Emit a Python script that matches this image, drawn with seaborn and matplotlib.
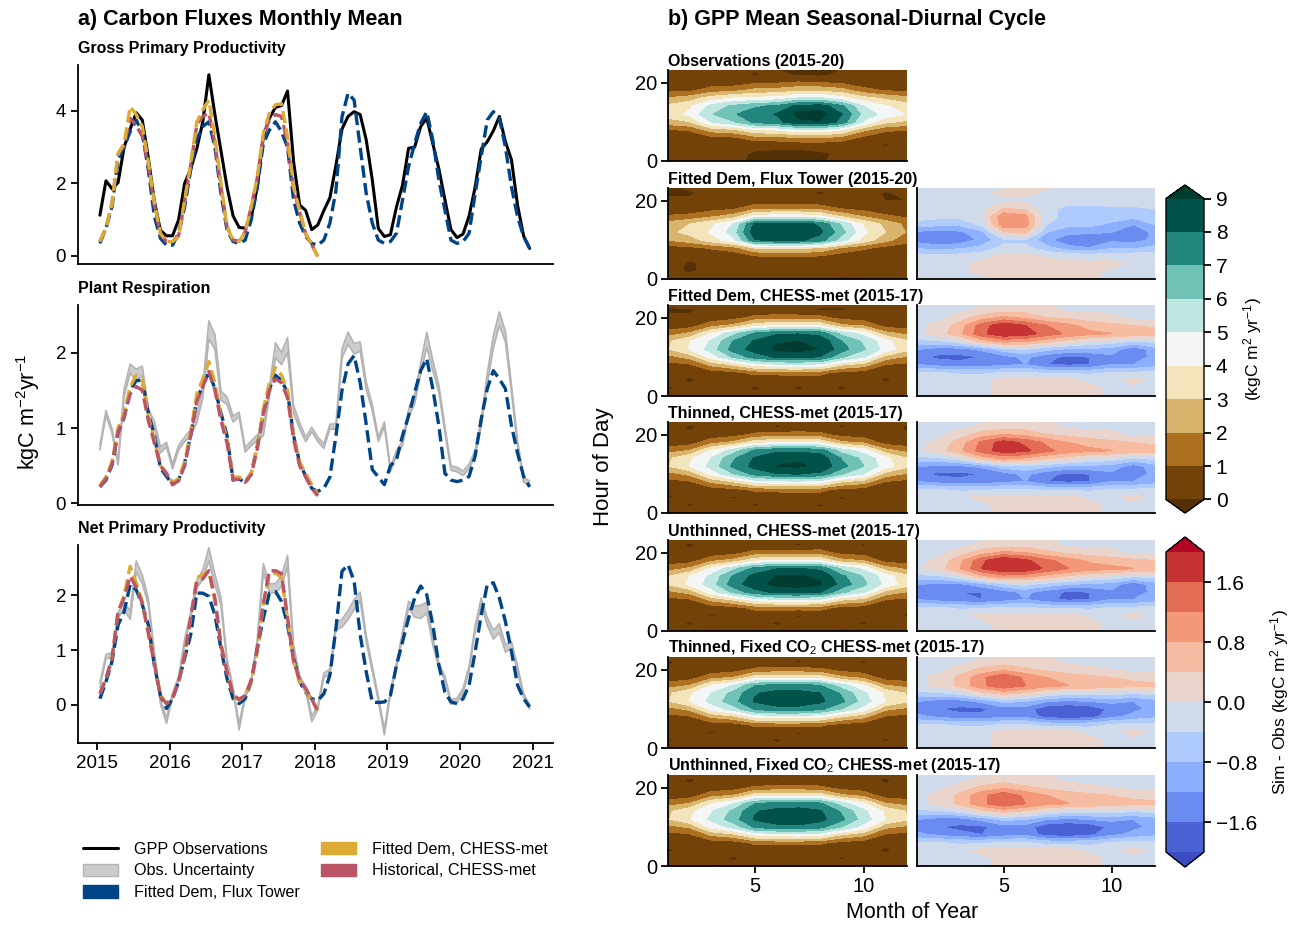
import numpy as np
import pandas as pd
import matplotlib
matplotlib.use("Agg")
import matplotlib.pyplot as plt
import seaborn as sns
from matplotlib.lines import Line2D
from matplotlib.patches import Patch

# ---------------------------------------------------------------- data
years = [2015, 2016, 2017, 2018, 2019, 2020, 2021]

gpp_obs = [1.12, 2.07, 1.85, 2.02, 3.0, 3.5, 3.95, 3.75, 2.7, 1.5, 0.7, 0.55,
           0.55, 0.99, 2.0, 2.4, 2.95, 3.7, 5.0, 3.9, 2.9, 1.9, 1.1, 0.78,
           0.76, 1.05, 1.9, 3.3, 3.8, 4.1, 4.15, 4.55, 2.6, 1.4, 1.25, 0.72,
           0.85, 1.25, 1.6, 2.5, 3.5, 3.85, 3.98, 3.9, 3.2, 2.1, 0.75, 0.53,
           0.58, 1.35, 1.95, 2.97, 3.0, 3.57, 3.8, 3.1, 2.4, 1.55, 0.72, 0.5,
           0.6, 1.1, 1.9, 2.95, 3.15, 3.45, 3.85, 3.15, 2.65, 1.4, 0.55, 0.2]
gpp_flux = [0.34, 0.76, 1.35, 2.65, 3.0, 3.43, 3.75, 3.4, 2.37, 1.08, 0.48, 0.29,
            0.29, 0.62, 1.35, 2.37, 3.2, 3.57, 3.7, 3.0, 1.72, 0.71, 0.39, 0.34,
            0.43, 0.99, 1.9, 3.1, 3.47, 3.7, 3.43, 3.0, 1.54, 0.9, 0.53, 0.34,
            0.29, 0.43, 0.9, 1.8, 3.84, 4.49, 4.3, 3.0, 1.72, 0.9, 0.43, 0.34,
            0.39, 0.62, 1.54, 2.46, 3.1, 3.66, 3.98, 3.2, 2.09, 1.26, 0.43, 0.34,
            0.39, 0.62, 1.72, 2.74, 3.75, 3.98, 3.8, 3.0, 1.9, 1.08, 0.53, 0.2]
gpp_chess = [0.39, 0.76, 1.45, 2.83, 3.1, 4.12, 3.9, 3.57, 2.6, 1.45, 0.62, 0.39,
             0.39, 0.53, 1.54, 2.55, 3.69, 4.03, 4.3, 3.29, 2.0, 0.8, 0.43, 0.39,
             0.66, 1.35, 2.18, 3.38, 3.94, 4.17, 4.2, 3.29, 1.9, 1.26, 0.62, 0.3, -0.03]
gpp_hist = [0.39, 0.76, 1.45, 2.8, 3.05, 3.8, 3.6, 3.3, 2.5, 1.4, 0.6, 0.39,
            0.39, 0.55, 1.5, 2.5, 3.6, 3.85, 3.95, 3.1, 1.9, 0.8, 0.43, 0.4,
            0.66, 1.35, 2.15, 3.3, 3.75, 3.9, 3.85, 3.1, 1.85, 1.2, 0.6, 0.3, -0.02]

resp_obs = [0.74, 1.2, 0.96, 0.54, 1.47, 1.79, 1.7, 1.76, 1.2, 1.05, 0.71, 0.78,
            0.49, 0.74, 0.85, 0.94, 1.12, 1.47, 2.3, 2.14, 1.43, 1.36, 1.12, 1.18,
            0.71, 0.8, 0.87, 0.94, 1.47, 2.03, 1.92, 2.1, 1.25, 1.03, 0.85, 0.98,
            0.85, 0.76, 1.02, 1.02, 1.99, 2.19, 2.05, 2.08, 1.56, 1.27, 0.85, 1.05,
            0.45, 0.67, 0.8, 1.2, 1.38, 1.79, 2.17, 1.83, 1.52, 0.98, 0.47, 0.45,
            0.4, 0.49, 0.67, 1.07, 1.65, 2.14, 2.45, 2.21, 1.52, 0.8, 0.31, 0.27]
resp_unc = [0.03, 0.03, 0.03, 0.03, 0.05, 0.06, 0.08, 0.06, 0.05, 0.04, 0.04, 0.03,
            0.03, 0.03, 0.03, 0.04, 0.05, 0.07, 0.12, 0.10, 0.06, 0.05, 0.04, 0.03,
            0.03, 0.03, 0.04, 0.04, 0.06, 0.10, 0.08, 0.10, 0.05, 0.04, 0.03, 0.03,
            0.03, 0.03, 0.03, 0.04, 0.06, 0.08, 0.07, 0.06, 0.05, 0.04, 0.03, 0.03,
            0.03, 0.03, 0.03, 0.05, 0.06, 0.07, 0.10, 0.07, 0.05, 0.04, 0.03, 0.03,
            0.03, 0.03, 0.04, 0.05, 0.07, 0.08, 0.09, 0.07, 0.05, 0.04, 0.03, 0.03]
resp_flux = [0.22, 0.31, 0.51, 0.94, 1.14, 1.5, 1.63, 1.63, 1.2, 0.9, 0.47, 0.36,
             0.25, 0.31, 0.54, 0.9, 1.38, 1.56, 1.74, 1.52, 1.2, 0.9, 0.31, 0.33,
             0.27, 0.4, 0.76, 1.2, 1.52, 1.7, 1.63, 1.47, 0.9, 0.54, 0.36, 0.2,
             0.16, 0.2, 0.35, 0.9, 1.5, 1.85, 1.96, 1.6, 1.05, 0.45, 0.35, 0.25,
             0.5, 0.58, 0.9, 1.16, 1.47, 1.76, 1.92, 1.52, 1.03, 0.4, 0.31, 0.29,
             0.31, 0.36, 0.63, 1.12, 1.52, 1.76, 1.65, 1.52, 1.03, 0.67, 0.36, 0.22]
resp_chess = [0.24, 0.35, 0.55, 1.0, 1.2, 1.55, 1.7, 1.65, 1.15, 0.85, 0.5, 0.4,
              0.28, 0.33, 0.55, 0.95, 1.45, 1.65, 1.88, 1.6, 1.15, 0.85, 0.35, 0.35,
              0.3, 0.4, 0.75, 1.25, 1.6, 1.8, 1.7, 1.5, 0.9, 0.55, 0.4, 0.25, 0.12]
resp_hist = [0.22, 0.33, 0.52, 0.95, 1.15, 1.45, 1.55, 1.5, 1.1, 0.8, 0.5, 0.4,
             0.25, 0.3, 0.5, 0.9, 1.35, 1.55, 1.75, 1.5, 1.1, 0.8, 0.32, 0.32,
             0.28, 0.38, 0.72, 1.2, 1.5, 1.65, 1.6, 1.4, 0.85, 0.5, 0.35, 0.2, 0.1]

npp_obs = [0.36, 0.88, 0.91, 1.64, 1.8, 1.64, 2.53, 2.29, 1.89, 0.91, 0.05, -0.29,
           0.17, 0.48, 1.15, 1.64, 2.2, 2.38, 2.75, 2.29, 1.89, 0.79, 0.29, -0.41,
           0.17, 0.42, 1.15, 2.5, 2.13, 2.13, 2.26, 2.63, 1.03, 0.48, 0.29, -0.26,
           -0.05, 0.54, 0.6, 1.43, 1.49, 1.64, 1.83, 1.98, 1.21, 0.66, 0.11, -0.5,
           0.23, 0.72, 1.28, 1.83, 1.7, 1.7, 1.77, 1.15, 0.72, 0.48, 0.05, 0.08,
           0.26, 0.66, 1.4, 1.89, 1.52, 1.28, 1.4, 1.03, 1.09, 0.66, 0.17, -0.04]
npp_unc = [0.04, 0.04, 0.04, 0.05, 0.06, 0.08, 0.10, 0.08, 0.06, 0.05, 0.04, 0.05,
           0.04, 0.04, 0.05, 0.05, 0.07, 0.08, 0.12, 0.10, 0.07, 0.05, 0.04, 0.05,
           0.04, 0.04, 0.05, 0.08, 0.08, 0.08, 0.10, 0.10, 0.06, 0.05, 0.04, 0.05,
           0.04, 0.04, 0.05, 0.06, 0.07, 0.08, 0.09, 0.08, 0.06, 0.05, 0.04, 0.05,
           0.04, 0.04, 0.05, 0.06, 0.10, 0.12, 0.10, 0.06, 0.05, 0.04, 0.04, 0.04,
           0.04, 0.04, 0.05, 0.06, 0.07, 0.08, 0.08, 0.07, 0.06, 0.05, 0.04, 0.04]
npp_flux = [0.11, 0.42, 0.79, 1.46, 1.7, 2.2, 2.1, 1.83, 1.46, 0.72, 0.17, -0.07,
            0.11, 0.42, 0.85, 1.28, 2.04, 2.04, 1.98, 1.64, 1.03, 0.48, 0.11, 0.02,
            0.11, 0.42, 1.03, 1.58, 2.04, 2.07, 1.89, 1.46, 0.85, 0.42, 0.23, 0.11,
            0.08, 0.2, 0.54, 1.4, 2.44, 2.56, 2.26, 1.28, 0.6, 0.05, 0.04, 0.05,
            0.17, 0.72, 1.15, 1.58, 1.95, 2.17, 2.01, 1.46, 0.72, 0.23, 0.05, 0.02,
            0.11, 0.36, 0.97, 1.64, 2.2, 2.23, 1.95, 1.52, 0.97, 0.36, 0.11, -0.04]
npp_chess = [0.2, 0.48, 0.85, 1.7, 2.0, 2.53, 2.23, 1.89, 1.34, 0.79, 0.17, 0.02,
             0.14, 0.42, 0.91, 1.58, 2.32, 2.38, 2.44, 1.89, 1.09, 0.6, 0.17, 0.08,
             0.17, 0.42, 0.97, 1.83, 2.38, 2.41, 2.32, 1.58, 0.79, 0.42, 0.26, 0.08, -0.1]
npp_hist = [0.2, 0.48, 0.85, 1.7, 1.95, 2.35, 2.15, 1.85, 1.3, 0.75, 0.15, 0.02,
            0.12, 0.42, 0.9, 1.6, 2.25, 2.3, 2.45, 1.95, 1.1, 0.6, 0.18, 0.1,
            0.17, 0.45, 1.0, 1.85, 2.45, 2.45, 2.4, 1.6, 0.8, 0.45, 0.3, 0.1, -0.12]

# seasonal-diurnal cycles: one list per month (Jan..Dec), values at hours 0,2,...,24
month_of_year = list(range(1, 13))
hour_of_day = list(range(0, 25, 2))

cyc_obs = [
    [0.2, 0.3, 0.2, 0.2, 0.9, 2.5, 3.5, 3.2, 2.1, 0.7, 0.2, 0.3, 0.2],
    [0.3, 0.2, 0.3, 0.2, 1.1, 2.9, 4.2, 3.8, 2.5, 0.8, 0.2, 0.2, 0.3],
    [0.2, 0.3, 0.2, 0.7, 2.4, 5.0, 5.9, 5.3, 3.5, 1.5, 0.4, 0.3, 0.2],
    [0.1, 0.2, 0.3, 0.8, 2.7, 5.8, 6.85, 6.2, 4.1, 1.7, 0.4, 0.2, 0.2],
    [-0.1, -0.1, 0.2, 1.5, 3.8, 7.2, 7.6, 6.8, 4.2, 2.3, 0.8, -0.1, 0.1],
    [-0.2, -0.1, 0.1, 1.6, 4.0, 7.6, 8.05, 7.2, 4.4, 2.4, 0.9, 0.2, -0.1],
    [-0.1, -0.2, 0.2, 1.9, 4.6, 8.8, 9.25, 8.3, 5.1, 2.8, 1.1, -0.1, -0.2],
    [-0.1, -0.1, 0.3, 1.9, 4.7, 8.9, 9.4, 8.5, 5.2, 2.8, 1.0, -0.2, -0.1],
    [0.2, 0.1, 0.2, 1.6, 4.0, 7.6, 8.0, 7.2, 4.4, 2.4, 0.8, 0.2, -0.1],
    [0.3, 0.2, 0.3, 0.7, 2.2, 4.8, 5.6, 5.0, 3.4, 1.4, 0.3, 0.3, 0.2],
    [0.2, 0.3, -0.1, 0.2, 1.2, 3.2, 4.6, 4.1, 2.8, 0.9, 0.2, 0.2, 0.3],
    [0.2, 0.2, 0.3, 0.2, 1.0, 2.7, 3.9, 3.5, 2.3, 0.8, 0.2, 0.3, 0.2]]
cyc_flux = [
    [0.2, 0.2, 0.3, 0.1, 0.5, 2.0, 2.7, 2.4, 1.1, 0.2, 0.1, -0.1, -0.1],
    [0.3, -0.1, -0.1, 0.1, 0.7, 2.5, 3.3, 3.0, 1.3, 0.3, 0.1, -0.1, 0.2],
    [0.2, 0.2, 0.2, 0.3, 1.1, 3.5, 4.1, 3.8, 1.8, 0.6, 0.1, 0.2, 0.3],
    [0.3, 0.3, 0.2, 0.4, 1.5, 4.6, 5.4, 5.0, 2.4, 0.8, 0.1, 0.3, 0.2],
    [0.2, 0.2, 0.3, 1.0, 3.0, 7.9, 8.6, 8.2, 4.3, 1.7, 0.3, 0.2, 0.3],
    [0.3, 0.2, 0.2, 1.1, 3.1, 8.2, 8.9, 8.5, 4.5, 1.8, 0.3, 0.3, 0.2],
    [0.2, 0.3, 0.3, 1.1, 3.1, 8.2, 8.9, 8.5, 4.5, 1.8, 0.3, 0.2, 0.3],
    [0.1, 0.2, 0.2, 1.0, 2.9, 7.5, 8.2, 7.8, 4.1, 1.6, 0.2, -0.1, 0.2],
    [-0.1, 0.2, 0.3, 0.5, 1.8, 5.4, 6.3, 5.8, 2.8, 0.9, 0.1, 0.2, -0.1],
    [0.2, 0.3, 0.2, 0.3, 1.2, 3.6, 4.2, 3.9, 1.9, 0.6, 0.1, 0.3, 0.2],
    [0.3, 0.2, 0.2, 0.1, 0.6, 2.3, 3.0, 2.7, 1.2, 0.2, 0.0, -0.1, 0.3],
    [0.2, 0.3, 0.2, 0.1, 0.4, 1.4, 1.9, 1.7, 0.8, 0.2, 0.0, 0.2, 0.2]]
cyc_fit_chess = [
    [0.2, -0.1, 0.2, 0.1, 0.6, 1.6, 2.9, 2.8, 1.5, 0.3, 0.1, -0.1, 0.2],
    [0.3, 0.2, -0.1, 0.1, 0.8, 2.3, 4.1, 3.9, 2.1, 0.5, 0.1, -0.1, 0.3],
    [0.2, 0.3, 0.2, 0.4, 2.2, 4.4, 5.4, 5.1, 4.1, 1.6, 0.4, 0.2, 0.2],
    [-0.1, 0.2, 0.3, 0.6, 3.0, 6.1, 7.4, 7.0, 5.6, 2.2, 0.6, 0.3, 0.2],
    [0.2, -0.1, 0.2, 1.3, 4.2, 7.4, 8.4, 8.1, 7.1, 3.6, 1.3, 0.2, 0.3],
    [0.3, 0.2, -0.1, 1.4, 4.6, 8.1, 9.15, 8.9, 7.8, 3.9, 1.4, 0.3, 0.2],
    [0.2, -0.1, 0.2, 1.4, 4.7, 8.2, 9.3, 9.0, 7.9, 4.0, 1.4, 0.2, 0.3],
    [0.3, 0.2, 0.3, 1.3, 4.5, 7.9, 8.95, 8.7, 7.6, 3.8, 1.3, -0.1, 0.2],
    [0.2, -0.1, 0.2, 0.6, 3.0, 6.1, 7.4, 7.0, 5.6, 2.2, 0.6, -0.1, 0.2],
    [0.3, 0.2, 0.3, 0.5, 2.4, 5.0, 6.1, 5.8, 4.6, 1.8, 0.5, 0.2, 0.3],
    [0.2, 0.3, -0.1, 0.1, 0.9, 2.5, 4.6, 4.4, 2.3, 0.6, 0.1, 0.3, 0.2],
    [0.3, 0.2, 0.2, 0.1, 0.7, 1.8, 3.3, 3.1, 1.7, 0.4, 0.1, 0.2, 0.3]]
cyc_thin_chess = [
    [0.2, 0.3, -0.1, 0.1, 0.6, 1.6, 2.9, 2.8, 1.5, 0.3, 0.1, 0.2, -0.1],
    [0.3, -0.1, 0.2, 0.1, 0.8, 2.2, 4.0, 3.8, 2.0, 0.5, 0.1, -0.1, 0.2],
    [-0.1, 0.2, 0.3, 0.4, 2.1, 4.3, 5.3, 5.0, 4.0, 1.6, 0.4, 0.2, 0.3],
    [0.2, 0.3, -0.1, 0.6, 2.9, 5.9, 7.2, 6.8, 5.4, 2.2, 0.6, 0.3, 0.2],
    [0.3, -0.1, 0.2, 1.2, 4.2, 7.3, 8.3, 8.1, 7.1, 3.6, 1.2, 0.2, -0.1],
    [0.2, 0.2, -0.1, 1.4, 4.5, 7.9, 9.0, 8.8, 7.7, 3.9, 1.4, -0.1, 0.2],
    [-0.1, 0.3, 0.2, 1.4, 4.6, 8.0, 9.1, 8.9, 7.7, 3.9, 1.4, 0.3, 0.2],
    [0.2, -0.1, 0.3, 1.3, 4.4, 7.7, 8.8, 8.6, 7.5, 3.8, 1.3, 0.2, 0.3],
    [0.3, 0.2, -0.1, 0.6, 2.9, 6.0, 7.3, 6.9, 5.5, 2.2, 0.6, -0.1, 0.2],
    [0.2, 0.3, 0.2, 0.5, 2.4, 4.9, 6.0, 5.7, 4.5, 1.8, 0.5, 0.3, -0.1],
    [-0.1, 0.2, 0.3, 0.1, 0.9, 2.5, 4.5, 4.3, 2.3, 0.5, 0.1, 0.2, 0.3],
    [0.2, 0.3, 0.2, 0.1, 0.6, 1.8, 3.2, 3.0, 1.6, 0.4, 0.1, -0.1, 0.2]]
cyc_unthin_chess = [
    [0.3, 0.2, 0.2, 0.1, 0.6, 1.7, 3.0, 2.9, 1.5, 0.4, 0.1, 0.2, 0.3],
    [0.2, -0.1, 0.3, 0.1, 0.8, 2.3, 4.2, 4.0, 2.1, 0.5, 0.1, -0.1, 0.2],
    [0.3, 0.2, -0.1, 0.4, 2.2, 4.5, 5.5, 5.2, 4.1, 1.7, 0.4, 0.3, -0.1],
    [0.2, 0.3, 0.2, 0.6, 3.0, 6.2, 7.5, 7.1, 5.6, 2.3, 0.6, 0.2, 0.2],
    [-0.1, 0.2, 0.3, 1.3, 4.3, 7.6, 8.6, 8.3, 7.3, 3.7, 1.3, 0.3, 0.2],
    [0.2, -0.1, 0.2, 1.4, 4.7, 8.2, 9.3, 9.0, 7.9, 4.0, 1.4, 0.2, 0.3],
    [0.3, 0.2, -0.1, 1.4, 4.7, 8.3, 9.4, 9.1, 8.0, 4.0, 1.4, -0.1, 0.2],
    [0.2, 0.3, 0.2, 1.4, 4.6, 8.0, 9.1, 8.8, 7.7, 3.9, 1.4, 0.3, 0.2],
    [-0.1, 0.2, 0.3, 0.6, 3.0, 6.2, 7.6, 7.2, 5.7, 2.3, 0.6, 0.2, -0.1],
    [0.2, -0.1, 0.2, 0.5, 2.5, 5.1, 6.2, 5.9, 4.7, 1.9, 0.5, -0.1, 0.3],
    [0.3, 0.2, 0.3, 0.1, 0.9, 2.6, 4.7, 4.5, 2.4, 0.6, 0.1, 0.2, 0.2],
    [0.2, 0.3, -0.1, 0.1, 0.7, 1.9, 3.4, 3.2, 1.7, 0.4, 0.1, 0.3, 0.2]]
cyc_thin_fixco2 = [
    [0.2, -0.1, 0.3, 0.1, 0.6, 1.6, 2.9, 2.8, 1.5, 0.3, 0.1, -0.1, 0.2],
    [0.3, 0.2, 0.2, 0.1, 0.8, 2.2, 4.0, 3.8, 2.0, 0.5, 0.1, 0.2, 0.3],
    [0.2, 0.3, -0.1, 0.4, 2.1, 4.3, 5.3, 5.0, 4.0, 1.6, 0.4, 0.3, 0.2],
    [-0.1, 0.2, 0.2, 0.5, 2.6, 5.4, 6.6, 6.3, 5.0, 2.0, 0.5, -0.1, 0.3],
    [0.3, 0.2, 0.3, 1.2, 4.1, 7.1, 8.1, 7.9, 6.9, 3.5, 1.2, 0.2, 0.2],
    [0.2, -0.1, 0.2, 1.3, 4.3, 7.6, 8.6, 8.3, 7.3, 3.7, 1.3, 0.3, -0.1],
    [0.3, 0.2, -0.1, 1.3, 4.3, 7.6, 8.6, 8.3, 7.3, 3.7, 1.3, -0.1, 0.2],
    [0.2, 0.3, 0.2, 1.2, 4.1, 7.2, 8.2, 8.0, 7.0, 3.5, 1.2, 0.2, 0.3],
    [-0.1, 0.2, 0.3, 0.6, 2.9, 5.9, 7.2, 6.8, 5.4, 2.2, 0.6, 0.3, 0.2],
    [0.2, 0.3, 0.2, 0.4, 2.2, 4.5, 5.5, 5.2, 4.1, 1.7, 0.4, -0.1, 0.2],
    [0.3, -0.1, 0.2, 0.1, 0.8, 2.2, 4.0, 3.8, 2.0, 0.5, 0.1, 0.2, 0.3],
    [0.2, 0.2, 0.3, 0.1, 0.6, 1.7, 3.1, 2.9, 1.6, 0.4, 0.1, 0.3, 0.2]]
cyc_unthin_fixco2 = [
    [0.3, 0.2, -0.1, 0.1, 0.6, 1.6, 2.9, 2.8, 1.5, 0.3, 0.1, 0.2, 0.3],
    [0.2, 0.3, 0.2, 0.1, 0.8, 2.1, 3.9, 3.7, 2.0, 0.5, 0.1, -0.1, 0.2],
    [-0.1, 0.2, 0.3, 0.4, 2.1, 4.3, 5.2, 4.9, 3.9, 1.6, 0.4, 0.2, 0.3],
    [0.2, -0.1, 0.2, 0.5, 2.6, 5.3, 6.5, 6.2, 4.9, 2.0, 0.5, 0.3, -0.1],
    [0.3, 0.2, 0.3, 1.2, 4.1, 7.1, 8.1, 7.9, 6.9, 3.5, 1.2, 0.2, 0.2],
    [0.2, 0.3, -0.1, 1.3, 4.3, 7.6, 8.6, 8.3, 7.3, 3.7, 1.3, -0.1, 0.3],
    [-0.1, 0.2, 0.2, 1.3, 4.4, 7.7, 8.7, 8.4, 7.4, 3.7, 1.3, 0.3, 0.2],
    [0.2, 0.3, 0.2, 1.2, 4.2, 7.3, 8.3, 8.1, 7.1, 3.6, 1.2, 0.2, -0.1],
    [0.3, -0.1, 0.3, 0.6, 2.9, 5.9, 7.2, 6.8, 5.4, 2.2, 0.6, 0.3, 0.2],
    [0.2, 0.3, 0.2, 0.4, 2.2, 4.5, 5.5, 5.2, 4.1, 1.7, 0.4, 0.2, 0.3],
    [0.3, 0.2, -0.1, 0.1, 0.8, 2.2, 4.0, 3.8, 2.0, 0.5, 0.1, -0.1, 0.2],
    [0.2, 0.3, 0.2, 0.1, 0.6, 1.7, 3.1, 2.9, 1.6, 0.4, 0.1, 0.2, 0.3]]

diff_flux = [
    [-0.1, -0.1, -0.1, -0.3, -0.9, -1.4, -1.3, -0.6, -0.2, -0.1, -0.1, -0.1, -0.1],
    [-0.1, -0.1, -0.1, -0.3, -1.0, -1.6, -1.4, -0.7, -0.3, -0.1, -0.1, -0.1, -0.1],
    [-0.1, -0.1, -0.1, -0.3, -0.9, -1.5, -1.3, -0.7, -0.3, -0.2, -0.1, -0.1, -0.1],
    [-0.1, 0.1, 0.1, -0.2, -0.7, -1.1, -0.9, -0.3, -0.1, -0.1, -0.1, -0.1, -0.1],
    [0.1, 0.2, 0.2, 0.1, -0.3, -0.5, 0.3, 1.1, 1.1, 0.4, -0.1, 0.1, -0.1],
    [0.1, 0.2, 0.2, 0.1, -0.3, -0.5, 0.5, 1.0, 0.9, 0.3, -0.1, 0.1, 0.1],
    [0.1, 0.2, 0.2, -0.1, -0.7, -1.1, -0.8, -0.4, -0.3, -0.3, -0.2, -0.1, 0.1],
    [0.1, 0.2, 0.1, -0.2, -1.1, -1.5, -1.1, -0.7, -0.5, -0.5, -0.3, -0.1, -0.1],
    [0.1, 0.1, 0.1, -0.3, -1.2, -1.7, -1.1, -0.7, -0.6, -0.5, -0.3, -0.1, -0.1],
    [-0.1, -0.1, 0.1, -0.2, -0.9, -1.3, -1.2, -0.9, -0.6, -0.5, -0.2, -0.1, -0.1],
    [-0.1, -0.1, -0.1, -0.2, -0.9, -1.4, -1.5, -1.2, -0.7, -0.5, -0.2, -0.1, -0.1],
    [-0.1, -0.1, -0.1, -0.2, -0.7, -1.1, -1.1, -0.8, -0.5, -0.4, -0.1, -0.1, -0.1]]
diff_fit_chess = [
    [-0.1, -0.1, -0.1, -0.4, -1.2, -1.5, -1.2, -0.5, -0.1, -0.1, -0.1, -0.1, -0.1],
    [-0.1, -0.1, -0.1, -0.4, -1.4, -1.7, -1.4, -0.5, 0.2, 0.1, -0.1, -0.1, -0.1],
    [-0.1, -0.1, -0.1, -0.5, -1.5, -1.7, -1.4, -0.2, 0.7, 0.6, 0.2, -0.1, -0.1],
    [-0.1, -0.1, -0.1, -0.5, -1.5, -1.6, -1.1, 0.5, 1.5, 1.4, 0.6, 0.1, -0.1],
    [0.1, 0.1, 0.1, -0.4, -1.3, -1.4, -0.6, 0.9, 1.9, 1.9, 0.9, 0.2, 0.1],
    [0.1, 0.2, 0.1, -0.4, -1.2, -1.1, -0.4, 0.8, 1.8, 1.6, 0.7, 0.2, 0.1],
    [0.1, 0.2, 0.1, -0.5, -1.6, -1.5, -0.7, 0.5, 1.4, 1.2, 0.4, 0.1, 0.1],
    [0.1, 0.1, 0.1, -0.5, -1.7, -1.7, -0.9, 0.2, 1.1, 0.9, 0.3, -0.1, -0.1],
    [0.1, 0.1, -0.1, -0.5, -1.6, -1.6, -0.9, -0.1, 0.9, 0.6, 0.2, -0.1, -0.1],
    [-0.1, -0.1, -0.1, -0.4, -1.2, -1.3, -1.0, -0.2, 0.8, 0.5, 0.1, -0.1, -0.1],
    [-0.1, -0.1, 0.1, -0.4, -1.2, -1.4, -1.5, -0.5, 0.7, 0.4, -0.1, -0.1, -0.1],
    [-0.1, -0.1, -0.1, -0.3, -1.0, -1.1, -1.0, -0.3, 0.6, 0.3, -0.1, -0.1, -0.1]]
diff_thin_chess = [
    [-0.1, -0.1, -0.1, -0.4, -1.2, -1.5, -1.2, -0.5, -0.1, -0.1, -0.1, -0.1, -0.1],
    [-0.1, -0.1, -0.1, -0.4, -1.4, -1.7, -1.3, -0.5, 0.2, 0.1, -0.1, -0.1, -0.1],
    [-0.1, -0.1, -0.1, -0.5, -1.5, -1.7, -1.3, -0.2, 0.7, 0.6, 0.2, -0.1, -0.1],
    [-0.1, -0.1, 0.1, -0.5, -1.5, -1.6, -1.1, 0.5, 1.4, 1.3, 0.6, 0.1, -0.1],
    [0.1, 0.1, 0.1, -0.4, -1.3, -1.4, -0.6, 0.9, 1.8, 1.8, 0.8, 0.2, 0.1],
    [0.1, 0.2, 0.1, -0.4, -1.2, -1.1, -0.5, 0.7, 1.7, 1.5, 0.7, 0.2, 0.1],
    [0.1, 0.2, 0.1, -0.5, -1.6, -1.5, -0.7, 0.4, 1.3, 1.1, 0.4, 0.1, 0.1],
    [0.1, 0.1, 0.1, -0.5, -1.7, -1.7, -0.9, 0.2, 1.0, 0.8, 0.3, -0.1, -0.1],
    [0.1, 0.1, -0.1, -0.5, -1.6, -1.6, -0.9, -0.1, 0.9, 0.6, 0.2, -0.1, -0.1],
    [-0.1, -0.1, -0.1, -0.4, -1.2, -1.3, -1.0, -0.2, 0.8, 0.5, 0.1, -0.1, -0.1],
    [-0.1, -0.1, 0.1, -0.4, -1.2, -1.4, -1.4, -0.5, 0.7, 0.4, -0.1, -0.1, -0.1],
    [-0.1, -0.1, -0.1, -0.3, -1.0, -1.1, -1.0, -0.3, 0.6, 0.3, -0.1, -0.1, -0.1]]
diff_unthin_chess = [
    [-0.1, -0.1, -0.1, -0.4, -1.2, -1.5, -1.2, -0.5, -0.1, -0.1, -0.1, -0.1, -0.1],
    [-0.1, -0.1, -0.1, -0.4, -1.4, -1.6, -1.3, -0.5, 0.2, 0.1, -0.1, -0.1, -0.1],
    [-0.1, -0.1, -0.1, -0.5, -1.5, -1.6, -1.3, -0.1, 0.8, 0.7, 0.2, -0.1, -0.1],
    [-0.1, -0.1, 0.1, -0.5, -1.6, -1.6, -1.0, 0.6, 1.6, 1.5, 0.6, 0.1, -0.1],
    [0.1, 0.1, 0.1, -0.4, -1.4, -1.4, -0.5, 1.0, 2.0, 2.0, 0.9, 0.2, 0.1],
    [0.1, 0.2, 0.1, -0.4, -1.2, -1.1, -0.3, 0.9, 1.9, 1.7, 0.8, 0.2, 0.1],
    [0.1, 0.2, 0.1, -0.5, -1.5, -1.4, -0.6, 0.6, 1.5, 1.3, 0.5, 0.1, 0.1],
    [0.1, 0.1, 0.1, -0.5, -1.7, -1.7, -0.8, 0.3, 1.2, 1.0, 0.3, -0.1, -0.1],
    [0.1, 0.1, -0.1, -0.5, -1.6, -1.6, -0.9, 0.0, 1.0, 0.7, 0.2, -0.1, -0.1],
    [-0.1, -0.1, -0.1, -0.4, -1.2, -1.3, -1.0, -0.1, 0.9, 0.6, 0.1, -0.1, -0.1],
    [-0.1, -0.1, 0.1, -0.4, -1.2, -1.4, -1.5, -0.4, 0.8, 0.5, -0.1, -0.1, -0.1],
    [-0.1, -0.1, -0.1, -0.3, -1.0, -1.1, -1.0, -0.3, 0.7, 0.4, -0.1, -0.1, -0.1]]
diff_thin_fixco2 = [
    [-0.1, -0.1, -0.1, -0.4, -1.1, -1.4, -1.2, -0.5, -0.1, -0.1, -0.1, -0.1, -0.1],
    [-0.1, -0.1, -0.1, -0.4, -1.3, -1.6, -1.4, -0.5, 0.1, 0.1, -0.1, -0.1, -0.1],
    [-0.1, -0.1, -0.1, -0.5, -1.5, -1.7, -1.4, -0.3, 0.5, 0.5, 0.2, -0.1, -0.1],
    [-0.1, -0.1, -0.1, -0.5, -1.5, -1.7, -1.1, 0.2, 1.1, 1.1, 0.5, 0.1, -0.1],
    [0.1, 0.1, 0.1, -0.4, -1.3, -1.4, -0.7, 0.5, 1.5, 1.6, 0.7, 0.2, 0.1],
    [0.1, 0.2, 0.1, -0.4, -1.3, -1.4, -0.8, 0.3, 1.2, 1.1, 0.5, 0.1, 0.1],
    [0.1, 0.2, 0.1, -0.6, -1.8, -1.9, -1.2, -0.1, 0.9, 0.8, 0.3, 0.1, 0.1],
    [0.1, 0.1, 0.1, -0.6, -1.9, -2.0, -1.3, -0.3, 0.8, 0.6, 0.2, -0.1, -0.1],
    [0.1, 0.1, -0.1, -0.6, -1.8, -1.9, -1.2, -0.3, 0.7, 0.5, 0.1, -0.1, -0.1],
    [-0.1, -0.1, -0.1, -0.4, -1.3, -1.5, -1.1, -0.3, 0.6, 0.4, 0.0, -0.1, -0.1],
    [-0.1, -0.1, 0.1, -0.3, -1.1, -1.3, -1.2, -0.4, 0.5, 0.3, -0.1, -0.1, -0.1],
    [-0.1, -0.1, -0.1, -0.3, -0.9, -1.1, -1.0, -0.3, 0.5, 0.2, -0.1, -0.1, -0.1]]
diff_unthin_fixco2 = [
    [-0.1, -0.1, -0.1, -0.4, -1.1, -1.4, -1.2, -0.5, -0.1, -0.1, -0.1, -0.1, -0.1],
    [-0.1, -0.1, -0.1, -0.4, -1.3, -1.6, -1.4, -0.5, 0.1, 0.1, -0.1, -0.1, -0.1],
    [-0.1, -0.1, -0.1, -0.5, -1.5, -1.7, -1.4, -0.3, 0.5, 0.5, 0.2, -0.1, -0.1],
    [-0.1, -0.1, 0.1, -0.5, -1.6, -1.7, -1.1, 0.2, 1.1, 1.1, 0.5, 0.1, -0.1],
    [0.1, 0.1, 0.1, -0.4, -1.4, -1.4, -0.7, 0.5, 1.5, 1.5, 0.7, 0.2, 0.1],
    [0.1, 0.2, 0.1, -0.4, -1.3, -1.4, -0.8, 0.3, 1.2, 1.1, 0.5, 0.1, 0.1],
    [0.1, 0.2, 0.1, -0.6, -1.8, -1.9, -1.2, -0.1, 0.9, 0.8, 0.3, 0.1, 0.1],
    [0.1, 0.1, 0.1, -0.6, -1.9, -2.0, -1.3, -0.3, 0.8, 0.6, 0.2, -0.1, -0.1],
    [0.1, 0.1, -0.1, -0.6, -1.7, -1.9, -1.2, -0.3, 0.7, 0.5, 0.1, -0.1, -0.1],
    [-0.1, -0.1, -0.1, -0.4, -1.3, -1.5, -1.1, -0.3, 0.6, 0.4, 0.0, -0.1, -0.1],
    [-0.1, -0.1, 0.1, -0.3, -1.1, -1.3, -1.2, -0.4, 0.5, 0.3, -0.1, -0.1, -0.1],
    [-0.1, -0.1, -0.1, -0.3, -0.9, -1.1, -1.0, -0.3, 0.5, 0.2, -0.1, -0.1, -0.1]]

row_titles = ["Observations (2015-20)",
              "Fitted Dem, Flux Tower (2015-20)",
              "Fitted Dem, CHESS-met (2015-17)",
              "Thinned, CHESS-met (2015-17)",
              "Unthinned, CHESS-met (2015-17)",
              "Thinned, Fixed CO$_2$ CHESS-met (2015-17)",
              "Unthinned, Fixed CO$_2$ CHESS-met (2015-17)"]
gpp_levels = list(range(0, 10))
diff_levels = [-2.0, -1.6, -1.2, -0.8, -0.4, 0.0, 0.4, 0.8, 1.2, 1.6, 2.0]
diff_ticks = [-1.6, -0.8, 0.0, 0.8, 1.6]
diff_ticklabels = ["\u22121.6", "\u22120.8", "0.0", "0.8", "1.6"]

legend_labels = ["GPP Observations", "Obs. Uncertainty", "Fitted Dem, Flux Tower",
                 "Fitted Dem, CHESS-met", "Historical, CHESS-met"]

# ---------------------------------------------------------------- style
sns.set_theme(style="ticks")
plt.rcParams["font.family"] = ["Liberation Sans", "DejaVu Sans"]
plt.rcParams["mathtext.fontset"] = "custom"
plt.rcParams["mathtext.rm"] = "Liberation Sans"
plt.rcParams["mathtext.it"] = "Liberation Sans:italic"
plt.rcParams["mathtext.bf"] = "Liberation Sans:bold"
for k in ["text.color", "axes.labelcolor", "xtick.color", "ytick.color", "axes.edgecolor"]:
    plt.rcParams[k] = "black"
plt.rcParams["axes.linewidth"] = 1.3
plt.rcParams["xtick.major.width"] = 1.3
plt.rcParams["ytick.major.width"] = 1.3
plt.rcParams["xtick.major.size"] = 5
plt.rcParams["ytick.major.size"] = 5

C_OBS = "black"
C_UNC = "#cccccc"
C_UNC_EDGE = "#b3b3b3"
C_FLUX = "#004488"
C_CHESS = "#ddaa33"
C_HIST = "#bb5566"

W, H = 1302, 925
fig = plt.figure(figsize=(W / 100, H / 100), dpi=100)


def box(l, t, r, b):
    return [l / W, 1 - b / H, (r - l) / W, (b - t) / H]


# ---------------------------------------------------------------- panel a
t_all = 2015 + (np.arange(72) + 0.5) / 12.0

ax_gpp = fig.add_axes(box(78, 65, 553, 264))
ax_res = fig.add_axes(box(78, 305, 553, 505))
ax_npp = fig.add_axes(box(78, 545, 553, 743))


def line(ax, y, color, ls, lw, z):
    y = np.asarray(y, dtype=float)
    df = pd.DataFrame({"t": t_all[:len(y)], "v": y})
    sns.lineplot(data=df, x="t", y="v", ax=ax, color=color, linestyle=ls,
                 linewidth=lw, zorder=z, estimator=None)


def band(ax, mid, unc):
    mid = np.asarray(mid, dtype=float)
    unc = np.asarray(unc, dtype=float)
    x = t_all[:len(mid)]
    ax.fill_between(x, mid - unc, mid + unc, color=C_UNC, lw=0, zorder=1)
    ax.plot(x, mid - unc, color=C_UNC_EDGE, lw=1.2, zorder=1)
    ax.plot(x, mid + unc, color=C_UNC_EDGE, lw=1.2, zorder=1)


line(ax_gpp, gpp_obs, C_OBS, "-", 2.2, 3)
line(ax_gpp, gpp_flux, C_FLUX, "--", 2.4, 4)
line(ax_gpp, gpp_hist, C_HIST, "--", 2.4, 5)
line(ax_gpp, gpp_chess, C_CHESS, "--", 2.4, 6)

band(ax_res, resp_obs, resp_unc)
line(ax_res, resp_flux, C_FLUX, "--", 2.4, 4)
line(ax_res, resp_chess, C_CHESS, "--", 2.4, 5)
line(ax_res, resp_hist, C_HIST, "--", 2.4, 6)

band(ax_npp, npp_obs, npp_unc)
line(ax_npp, npp_flux, C_FLUX, "--", 2.4, 4)
line(ax_npp, npp_chess, C_CHESS, "--", 2.4, 5)
line(ax_npp, npp_hist, C_HIST, "--", 2.4, 6)

ax_gpp.set_ylim(-0.23, 5.27)
ax_gpp.set_yticks([0, 2, 4])
ax_res.set_ylim(-0.02, 2.63)
ax_res.set_yticks([0, 1, 2])
ax_npp.set_ylim(-0.7, 2.92)
ax_npp.set_yticks([0, 1, 2])

subtitles = ["Gross Primary Productivity", "Plant Respiration", "Net Primary Productivity"]
for ax, st in zip([ax_gpp, ax_res, ax_npp], subtitles):
    ax.set_xlim(2014.74, 2021.28)
    ax.set_xlabel("")
    ax.set_ylabel("")
    sns.despine(ax=ax)
    ax.tick_params(labelsize=13.5)
    ax.set_title(st, loc="left", fontweight="bold", fontsize=11.5, pad=9)
for ax in [ax_gpp, ax_res]:
    ax.set_xticks([])
ax_npp.set_xticks(years)
ax_npp.set_xticklabels([str(y) for y in years])

fig.text(78 / W, 1 - 20 / H, "a) Carbon Fluxes Monthly Mean", fontsize=15.5,
         fontweight="bold", va="center", ha="left")
fig.text(28 / W, 1 - 412 / H, "kgC m$^{-2}$yr$^{-1}$", rotation=90, fontsize=15.5,
         va="center", ha="center")

handles = [Line2D([0], [0], color=C_OBS, lw=2.2),
           Patch(facecolor=C_UNC, edgecolor=C_UNC_EDGE),
           Patch(facecolor=C_FLUX, edgecolor=C_FLUX),
           Patch(facecolor=C_CHESS, edgecolor=C_CHESS),
           Patch(facecolor=C_HIST, edgecolor=C_HIST)]
fig.legend(handles, legend_labels, ncol=2, loc="upper left",
           bbox_to_anchor=(68 / W, 1 - 827 / H), frameon=False, fontsize=11.6,
           handlelength=2.2, handleheight=0.8, labelspacing=0.42,
           columnspacing=1.3, handletextpad=1.0)

# ---------------------------------------------------------------- panel b
fig.text(668 / W, 1 - 20 / H, "b) GPP Mean Seasonal-Diurnal Cycle", fontsize=15.5,
         fontweight="bold", va="center", ha="left")

gpp_fields = [cyc_obs, cyc_flux, cyc_fit_chess, cyc_thin_chess, cyc_unthin_chess,
              cyc_thin_fixco2, cyc_unthin_fixco2]
diff_fields = [None, diff_flux, diff_fit_chess, diff_thin_chess, diff_unthin_chess,
               diff_thin_fixco2, diff_unthin_fixco2]
row_tops = [70, 188, 305, 422, 540, 657, 775]
ROW_H = 91

cs_g = cs_d = None
for i, top in enumerate(row_tops):
    axl = fig.add_axes(box(668, top, 907, top + ROW_H))
    Z = np.array(gpp_fields[i], dtype=float).T
    cs_g = axl.contourf(month_of_year, hour_of_day, Z, levels=gpp_levels,
                        cmap="BrBG", extend="both")
    cs_g.set_edgecolor("face")
    cs_g.set_linewidth(0.4)
    axl.set_xlim(1, 12)
    axl.set_ylim(0, 23.3)
    axl.set_yticks([0, 20])
    axl.tick_params(labelsize=14.5, pad=3)
    sns.despine(ax=axl)
    axl.set_title(row_titles[i], loc="left", fontweight="bold", fontsize=11.5, pad=3)
    last = i == len(row_tops) - 1
    if last:
        axl.set_xticks([5, 10])
    else:
        axl.set_xticks([])
    if diff_fields[i] is not None:
        axr = fig.add_axes(box(917, top, 1155, top + ROW_H))
        D = np.array(diff_fields[i], dtype=float).T
        cs_d = axr.contourf(month_of_year, hour_of_day, D, levels=diff_levels,
                            cmap="coolwarm", extend="both")
        cs_d.set_edgecolor("face")
        cs_d.set_linewidth(0.4)
        axr.set_xlim(1, 12)
        axr.set_ylim(0, 23.3)
        axr.set_yticks([])
        axr.tick_params(labelsize=14.5, pad=3)
        sns.despine(ax=axr)
        if last:
            axr.set_xticks([5, 10])
        else:
            axr.set_xticks([])

fig.text(603 / W, 1 - 467 / H, "Hour of Day", rotation=90, fontsize=16,
         va="center", ha="center")
fig.text(912 / W, 1 - 913 / H, "Month of Year", fontsize=15.5, va="center", ha="center")

cax1 = fig.add_axes(box(1166, 185, 1204, 513))
cb1 = fig.colorbar(cs_g, cax=cax1, ticks=gpp_levels, extendfrac=0.045)
cb1.ax.tick_params(labelsize=15, length=5, width=1.3)
cb1.outline.set_linewidth(1.0)
cb1.set_label("(kgC m$^2$ yr$^{-1}$)", fontsize=12.5, labelpad=10)

cax2 = fig.add_axes(box(1166, 537, 1204, 867))
cb2 = fig.colorbar(cs_d, cax=cax2, ticks=diff_ticks, extendfrac=0.05)
cb2.ax.set_yticklabels(diff_ticklabels)
cb2.ax.tick_params(labelsize=15, length=5, width=1.3)
cb2.outline.set_linewidth(1.0)
cb2.set_label("Sim - Obs (kgC m$^2$ yr$^{-1}$)", fontsize=12.5, labelpad=8)

fig.savefig("out.png", dpi=100)
